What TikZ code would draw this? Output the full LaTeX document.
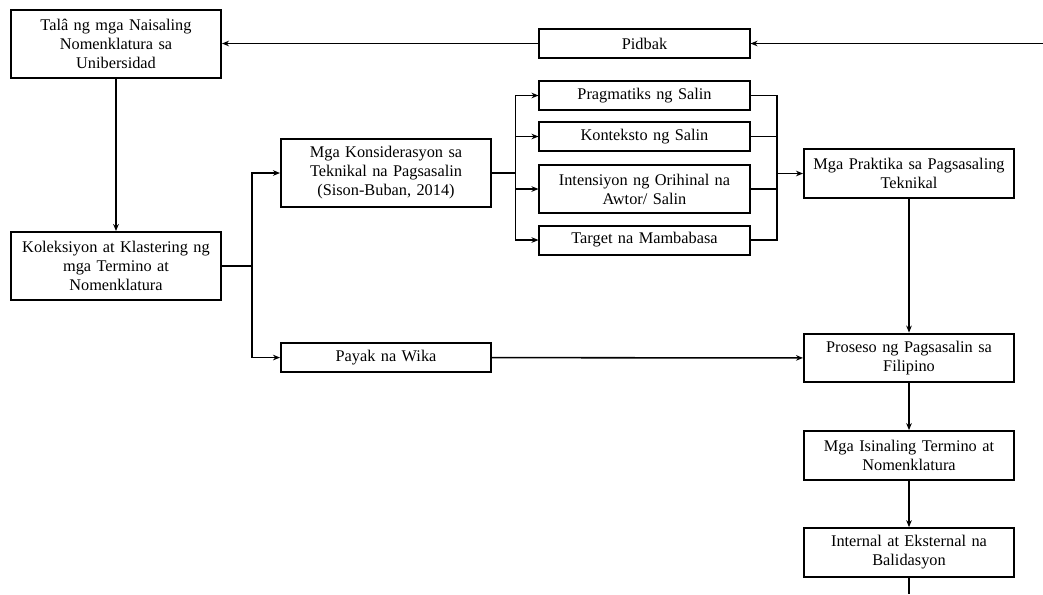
\documentclass[tikz,border=0pt]{standalone}
\usepackage{fontspec}
\setmainfont{Liberation Serif}
\usetikzlibrary{arrows.meta,positioning}

\begin{document}
\begin{tikzpicture}[x=0.025cm,y=-0.025cm,->,>={Stealth[length=5pt,width=4pt]},line width=1.1pt,
  node distance=2.0cm,
  main node/.style={rectangle,draw,line width=1.4pt,font=\fontsize{11.6}{13.5}\selectfont,
    text width=5.1cm,align=center,minimum width=5.25cm,minimum height=0.725cm,inner sep=1pt},
  two/.style={minimum height=1.22cm},
  three/.style={minimum height=1.7cm}]

  \useasboundingbox (0,0) rectangle (1043,594);

  \node[main node,three] (tala) at (116,44) {Talâ ng mga Naisaling\\ Nomenklatura sa\\ Unibersidad};
  \node[main node,three] (kol) [node distance=5.55cm, below of=tala] {Koleksiyon at Klastering ng\\ mga Termino at\\ Nomenklatura};
  \node[main node,three] (kons) at (386,173) {Mga Konsiderasyon sa\\ Teknikal na Pagsasalin\\ (Sison-Buban, 2014)};
  \node[main node] (payak) [node distance=4.6125cm, below of=kons] {Payak na Wika};

  \node[main node] (pidbak) at (644.5,43.5) {Pidbak};
  \node[main node] (prag) at (644.5,95.5) {Pragmatiks ng Salin};
  \node[main node] (kont) [node distance=1.025cm, below of=prag] {Konteksto ng Salin};
  \node[main node,two] (inten) [node distance=1.3125cm, below of=kont] {Intensiyon ng Orihinal na\\ Awtor/ Salin};
  \node[main node] (targ) [node distance=1.275cm, below of=inten] {Target na Mambabasa};

  \node[main node,two] (prak) at (909,173.5) {Mga Praktika sa Pagsasaling\\ Teknikal};
  \node[main node,two] (pros) at (909,358) {Proseso ng Pagsasalin sa\\ Filipino};
  \node[main node,two] (isin) [node distance=2.4375cm, below of=pros] {Mga Isinaling Termino at\\ Nomenklatura};
  \node[main node,two] (inter) [node distance=2.425cm, below of=isin] {Internal at Eksternal na\\ Balidasyon};

  \coordinate (fbin) at (1043,43.5);
  \coordinate (merge) at (777,173.5);
  \coordinate (outend) at (909,594);

  % pidbak loop
  \draw (fbin) -- (pidbak);
  \draw (pidbak) -- (tala.east |- pidbak);
  \draw (tala) -- (kol);

  % split after koleksiyon
  \draw[-] (kol.east) -- ++(30,0) coordinate (s1);
  \draw (s1) |- (kons);
  \draw (s1) |- (payak);

  % konsiderasyon
  \draw[-] (kons.east) -- ++(23.5,0) coordinate (s2);
  \foreach \n in {prag,kont,inten,targ}
    \draw (s2) |- (\n);
  \foreach \n in {prag,kont,inten,targ}
    \draw[-] (\n.east) -| (merge);
  \draw (merge) -- (prak);

  \path
  (prak) edge (pros)
  (payak) edge (pros)
  (pros) edge (isin)
  (isin) edge (inter)
  (inter) edge[-] (outend)
  ;

\end{tikzpicture}
\end{document}
